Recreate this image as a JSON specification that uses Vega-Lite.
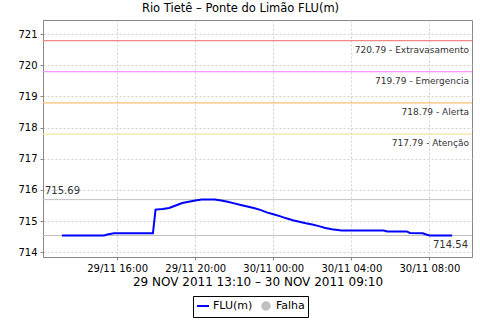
{
  "$schema": "https://vega.github.io/schema/vega-lite/v6.json",
  "width": 429,
  "height": 237,
  "autosize": "none",
  "padding": {"left": 43, "top": 20, "right": 8, "bottom": 63},
  "background": "white",
  "title": {"text": "Rio Tietê – Ponte do Limão FLU(m)", "font": "DejaVu Sans", "fontSize": 11.5, "fontWeight": "normal", "color": "#000", "dx": -17, "offset": 6},
  "config": {"view": {"stroke": "#888", "strokeWidth": 1}, "font": "DejaVu Sans"},
  "datasets": {
    "series": [
      {"time": "2011/11/29 13:10", "value": 714.54, "serie": "FLU(m)"},
      {"time": "2011/11/29 15:20", "value": 714.54, "serie": "FLU(m)"},
      {"time": "2011/11/29 15:30", "value": 714.57, "serie": "FLU(m)"},
      {"time": "2011/11/29 15:50", "value": 714.61, "serie": "FLU(m)"},
      {"time": "2011/11/29 17:50", "value": 714.61, "serie": "FLU(m)"},
      {"time": "2011/11/29 17:58", "value": 715.37, "serie": "FLU(m)"},
      {"time": "2011/11/29 18:20", "value": 715.39, "serie": "FLU(m)"},
      {"time": "2011/11/29 18:40", "value": 715.42, "serie": "FLU(m)"},
      {"time": "2011/11/29 19:00", "value": 715.5, "serie": "FLU(m)"},
      {"time": "2011/11/29 19:20", "value": 715.58, "serie": "FLU(m)"},
      {"time": "2011/11/29 19:40", "value": 715.62, "serie": "FLU(m)"},
      {"time": "2011/11/29 20:00", "value": 715.66, "serie": "FLU(m)"},
      {"time": "2011/11/29 20:20", "value": 715.69, "serie": "FLU(m)"},
      {"time": "2011/11/29 21:00", "value": 715.69, "serie": "FLU(m)"},
      {"time": "2011/11/29 21:20", "value": 715.66, "serie": "FLU(m)"},
      {"time": "2011/11/29 21:40", "value": 715.62, "serie": "FLU(m)"},
      {"time": "2011/11/29 22:00", "value": 715.57, "serie": "FLU(m)"},
      {"time": "2011/11/29 22:20", "value": 715.52, "serie": "FLU(m)"},
      {"time": "2011/11/29 22:40", "value": 715.47, "serie": "FLU(m)"},
      {"time": "2011/11/29 23:00", "value": 715.42, "serie": "FLU(m)"},
      {"time": "2011/11/29 23:20", "value": 715.36, "serie": "FLU(m)"},
      {"time": "2011/11/29 23:40", "value": 715.28, "serie": "FLU(m)"},
      {"time": "2011/11/30 00:00", "value": 715.22, "serie": "FLU(m)"},
      {"time": "2011/11/30 00:20", "value": 715.16, "serie": "FLU(m)"},
      {"time": "2011/11/30 00:40", "value": 715.09, "serie": "FLU(m)"},
      {"time": "2011/11/30 01:00", "value": 715.03, "serie": "FLU(m)"},
      {"time": "2011/11/30 01:20", "value": 714.98, "serie": "FLU(m)"},
      {"time": "2011/11/30 01:40", "value": 714.93, "serie": "FLU(m)"},
      {"time": "2011/11/30 02:00", "value": 714.89, "serie": "FLU(m)"},
      {"time": "2011/11/30 02:20", "value": 714.84, "serie": "FLU(m)"},
      {"time": "2011/11/30 02:40", "value": 714.78, "serie": "FLU(m)"},
      {"time": "2011/11/30 03:00", "value": 714.74, "serie": "FLU(m)"},
      {"time": "2011/11/30 03:30", "value": 714.7, "serie": "FLU(m)"},
      {"time": "2011/11/30 05:40", "value": 714.7, "serie": "FLU(m)"},
      {"time": "2011/11/30 05:50", "value": 714.67, "serie": "FLU(m)"},
      {"time": "2011/11/30 06:50", "value": 714.67, "serie": "FLU(m)"},
      {"time": "2011/11/30 07:00", "value": 714.62, "serie": "FLU(m)"},
      {"time": "2011/11/30 07:40", "value": 714.61, "serie": "FLU(m)"},
      {"time": "2011/11/30 07:50", "value": 714.57, "serie": "FLU(m)"},
      {"time": "2011/11/30 08:00", "value": 714.54, "serie": "FLU(m)"},
      {"time": "2011/11/30 09:10", "value": 714.54, "serie": "FLU(m)"}
    ],
    "thresholds": [
      {"value": 720.79, "name": "Extravasamento", "text": "720.79 - Extravasamento"},
      {"value": 719.79, "name": "Emergencia", "text": "719.79 - Emergencia"},
      {"value": 718.79, "name": "Alerta", "text": "718.79 - Alerta"},
      {"value": 717.79, "name": "Atenção", "text": "717.79 - Atenção"}
    ],
    "extremes": [
      {"value": 715.69, "kind": "max", "text": "715.69"},
      {"value": 714.54, "kind": "min", "text": "714.54"}
    ]
  },
  "encoding": {
    "y": {
      "field": "value",
      "type": "quantitative",
      "scale": {"domain": [713.85, 721.45], "nice": false, "zero": false},
      "axis": {
        "title": null,
        "values": [714, 715, 716, 717, 718, 719, 720, 721],
        "format": "d",
        "grid": true,
        "gridColor": "#d0d0d0",
        "gridDash": [2, 2],
        "tickSize": 3,
        "tickColor": "#888",
        "domainColor": "#888",
        "labelPadding": 3,
        "labelFont": "DejaVu Sans",
        "labelFontSize": 10,
        "labelColor": "#000"
      }
    }
  },
  "layer": [
    {
      "data": {"name": "thresholds"},
      "mark": {"type": "rule", "strokeWidth": 1.2},
      "encoding": {
        "stroke": {
          "field": "name",
          "type": "nominal",
          "scale": {"domain": ["Extravasamento", "Emergencia", "Alerta", "Atenção"], "range": ["#F08888", "#FF77FF", "#FFC070", "#F5E6A0"]},
          "legend": null
        }
      }
    },
    {
      "data": {"name": "thresholds"},
      "mark": {"type": "text", "align": "right", "baseline": "middle", "dx": -3, "dy": 9, "font": "DejaVu Sans", "fontSize": 9, "color": "#333"},
      "encoding": {
        "x": {"datum": {"year": 2011, "month": 11, "date": 30, "hours": 10, "minutes": 11}, "type": "temporal"},
        "text": {"field": "text"}
      }
    },
    {
      "data": {"name": "extremes"},
      "mark": {"type": "rule", "strokeWidth": 1, "color": "#C0C0C0"},
      "encoding": {}
    },
    {
      "data": {"name": "extremes"},
      "transform": [{"filter": "datum.kind === 'max'"}],
      "mark": {"type": "text", "align": "left", "baseline": "middle", "dx": 2, "dy": -9, "font": "DejaVu Sans", "fontSize": 10, "color": "#333"},
      "encoding": {
        "x": {"datum": {"year": 2011, "month": 11, "date": 29, "hours": 12, "minutes": 12}, "type": "temporal"},
        "text": {"field": "text"}
      }
    },
    {
      "data": {"name": "extremes"},
      "transform": [{"filter": "datum.kind === 'min'"}],
      "mark": {"type": "text", "align": "right", "baseline": "middle", "dx": -4, "dy": 10, "font": "DejaVu Sans", "fontSize": 10, "color": "#333"},
      "encoding": {
        "x": {"datum": {"year": 2011, "month": 11, "date": 30, "hours": 10, "minutes": 11}, "type": "temporal"},
        "text": {"field": "text"}
      }
    },
    {
      "data": {"name": "series"},
      "mark": {"type": "line", "strokeWidth": 2, "interpolate": "linear"},
      "encoding": {
        "x": {
          "field": "time",
          "type": "temporal",
          "scale": {"domain": [{"year": 2011, "month": 11, "date": 29, "hours": 12, "minutes": 12}, {"year": 2011, "month": 11, "date": 30, "hours": 10, "minutes": 11}]},
          "axis": {
            "title": "29 NOV 2011 13:10 – 30 NOV 2011 09:10",
            "titleFont": "DejaVu Sans",
            "titleFontSize": 12,
            "titleFontWeight": "normal",
            "titleColor": "#000",
            "titlePadding": 3,
            "values": [
              {"year": 2011, "month": 11, "date": 29, "hours": 16},
              {"year": 2011, "month": 11, "date": 29, "hours": 20},
              {"year": 2011, "month": 11, "date": 30, "hours": 0},
              {"year": 2011, "month": 11, "date": 30, "hours": 4},
              {"year": 2011, "month": 11, "date": 30, "hours": 8}
            ],
            "format": "%d/%m %H:%M",
            "grid": true,
            "gridColor": "#d0d0d0",
            "gridDash": [2, 2],
            "tickSize": 3,
            "tickColor": "#888",
            "domainColor": "#888",
            "labelPadding": 3,
            "labelFont": "DejaVu Sans",
            "labelFontSize": 10,
            "labelColor": "#000"
          }
        },
        "y": {"field": "value", "type": "quantitative"},
        "color": {
          "field": "serie",
          "type": "nominal",
          "scale": {"domain": ["FLU(m)", "Falha"], "range": ["#0000FF", "#C0C0C0"]},
          "legend": {
            "title": null,
            "orient": "none",
            "legendX": 150,
            "legendY": 276,
            "direction": "horizontal",
            "gridAlign": "none",
            "strokeColor": "#000",
            "padding": 3,
            "labelFont": "DejaVu Sans",
            "labelFontSize": 11,
            "labelColor": "#000",
            "labelOffset": 3,
            "columnPadding": 5,
            "symbolOffset": 0,
            "symbolStrokeWidth": 2,
            "symbolSize": 144,
            "encode": {
              "symbols": {
                "update": {
                  "shape": {"signal": "datum.value === 'Falha' ? 'circle' : 'stroke'"},
                  "fill": {"signal": "datum.value === 'Falha' ? '#C0C0C0' : 'transparent'"},
                  "stroke": {"signal": "datum.value === 'Falha' ? 'transparent' : '#0000FF'"},
                  "size": {"signal": "datum.value === 'Falha' ? 56 : 144"}
                }
              }
            }
          }
        }
      }
    }
  ]
}
